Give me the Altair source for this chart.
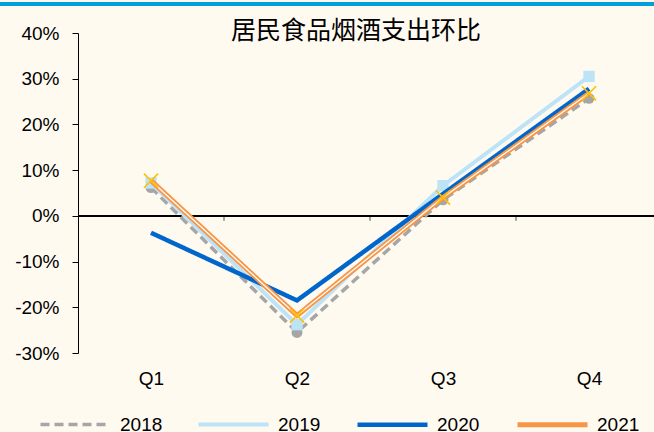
import altair as alt
import pandas as pd

quarters = ["Q1", "Q2", "Q3", "Q4"]
years = ["2018", "2019", "2020", "2021"]
v2018 = [0.062, -0.255, 0.035, 0.257]
v2019 = [0.072, -0.238, 0.066, 0.305]
v2020 = [-0.037, -0.185, 0.048, 0.278]
v2021 = [0.077, -0.218, 0.040, 0.268]
series = {"2018": v2018, "2019": v2019, "2020": v2020, "2021": v2021}
boundary_ticks = [1.5, 2.5, 3.5]
y_ticks = [-0.3, -0.2, -0.1, 0, 0.1, 0.2, 0.3, 0.4]

rows = []
for y in years:
    for i, q in enumerate(quarters):
        rows.append({"year": y, "qi": i + 1, "q": q, "value": series[y][i]})
df = pd.DataFrame(rows)
tick_df = pd.DataFrame({"qi": boundary_ticks})

FONT = "Liberation Sans"
colors = ["#A6A6A6", "#BDE3F7", "#0066CC", "#F79646"]
dashes = [[9, 5], [1, 0], [1, 0], [1, 0]]
widths = [3.5, 5, 3.5, 4]

xscale = alt.Scale(domain=[0.5, 4.445], nice=False, zero=False)
yscale = alt.Scale(domain=[-0.3, 0.4], nice=False)

X = alt.X("qi:Q", scale=xscale, title=None,
          axis=alt.Axis(values=[1, 2, 3, 4],
                        labelExpr="['Q1','Q2','Q3','Q4'][datum.value-1]",
                        domain=False, ticks=False, tickSize=0, grid=False,
                        labelFont=FONT, labelFontSize=19, labelColor="#000000",
                        labelPadding=16))
Y = alt.Y("value:Q", scale=yscale, title=None,
          axis=alt.Axis(values=y_ticks,
                        labelExpr="round(datum.value*100) + '%'",
                        grid=False, domainColor="#000000",
                        tickColor="#000000", tickSize=6, labelPadding=13,
                        labelFont=FONT, labelFontSize=19, labelColor="#000000"))

legend = alt.Legend(title=None, orient="none", legendX=-40, legendY=354,
                    direction="horizontal", columns=4, symbolType="stroke",
                    symbolSize=4900, labelFont=FONT, labelFontSize=19,
                    labelColor="#000000", labelOffset=7, columnPadding=27)
color_enc = alt.Color("year:N", scale=alt.Scale(domain=years, range=colors), legend=legend)
dash_enc = alt.StrokeDash("year:N", scale=alt.Scale(domain=years, range=dashes), legend=legend)
width_enc = alt.StrokeWidth("year:N", scale=alt.Scale(domain=years, range=widths), legend=legend)

base = alt.Chart(df)

def year_line(y):
    return base.transform_filter(alt.datum.year == y).mark_line(strokeCap="butt").encode(
        x=X, y=Y, color=color_enc, strokeDash=dash_enc, strokeWidth=width_enc)

zero_line = base.mark_rule(color="#000000", strokeWidth=1).encode(
    x=alt.datum(0.5), x2=alt.datum(4.445), y=alt.datum(0))
zero_ticks = alt.Chart(tick_df).mark_tick(
    color="#000000", orient="vertical", size=5, thickness=1, yOffset=2.5).encode(
    x=X, y=alt.datum(0))

top_bar = base.mark_rule(color="#009FD9", strokeWidth=2.5).encode(
    x=alt.value(-78), x2=alt.value(576), y=alt.value(-29))

l2018 = year_line("2018")
p2018 = base.transform_filter(alt.datum.year == "2018").mark_point(
    shape="circle", filled=True, size=120, color="#A6A6A6", opacity=1).encode(x=X, y=Y)
l2019 = year_line("2019")
p2019 = base.transform_filter(alt.datum.year == "2019").mark_point(
    shape="square", filled=True, size=130, color="#BDE3F7", opacity=1).encode(x=X, y=Y)
l2020 = year_line("2020")
l2021 = year_line("2021")
l2021_inner = base.transform_filter(alt.datum.year == "2021").mark_line(
    color="#FFFFFF", strokeWidth=1.3).encode(x=X, y=Y)
p2021 = base.transform_filter(alt.datum.year == "2021").mark_point(
    shape="M-1,-1L1,1M-1,1L1,-1", filled=False, size=200, color="#FFC000",
    strokeWidth=1.6, opacity=1).encode(x=X, y=Y)

chart = alt.layer(
    top_bar, zero_line, zero_ticks, l2018, p2018, l2019, p2019, l2020, l2021, l2021_inner, p2021
).properties(
    width=576, height=320,
    title=alt.TitleParams("居民食品烟酒支出环比", font="Noto Sans CJK SC", fontSize=25,
                          fontWeight="normal", color="#000000", anchor="middle",
                          frame="group", baseline="top", offset=-41, dx=-10),
    background="#FFFAF0",
    padding={"left": 78, "top": 33, "right": 0, "bottom": 79},
    autosize=alt.AutoSizeParams(type="none"),
).configure_view(stroke=None)

chart.save("out.html", embed_options={"renderer": "svg", "actions": False})
